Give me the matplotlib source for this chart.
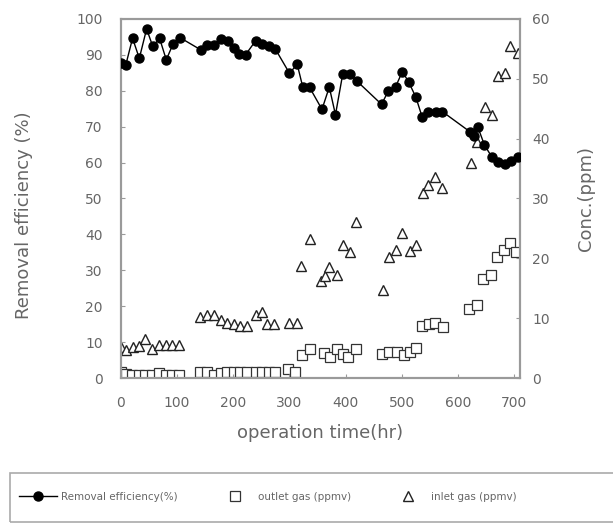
import numpy as np
import matplotlib.pyplot as plt
from matplotlib.patches import Rectangle

# removal efficiency (%), left axis
eff_time = [0, 9, 21, 33, 46, 57, 69, 81, 93, 105,
            142, 154, 166, 179, 190, 201, 210, 222, 240, 252, 263, 275,
            300, 314, 324, 336, 358, 371, 382, 395, 408, 420,
            464, 476, 489, 501, 512, 525, 536, 547, 560, 572,
            621, 628, 635, 647, 660, 671, 683, 695, 706]
eff = [87.7, 87.2, 94.6, 89.0, 97.2, 92.3, 94.6, 88.6, 93.0, 94.8,
       91.4, 92.8, 92.6, 94.4, 93.7, 91.8, 90.1, 90.0, 93.9, 93.0, 92.3, 91.6,
       84.9, 87.3, 80.9, 80.9, 74.8, 81.0, 73.3, 84.7, 84.7, 82.7,
       76.2, 79.9, 81.1, 85.3, 82.5, 78.2, 72.8, 74.2, 74.2, 74.2,
       68.6, 67.5, 70.0, 64.9, 61.6, 60.2, 59.5, 60.4, 61.6]

# outlet gas (ppmv), right axis
out_time = [0, 10, 20, 32, 44, 56, 68, 80, 92, 104,
            141, 154, 166, 178, 189, 201, 213, 225, 240, 252, 263, 275,
            298, 310, 323, 336, 361, 373, 385, 395, 405, 419,
            465, 478, 491, 504, 514, 526, 536, 548, 559, 574,
            620, 634, 645, 659, 669, 681, 693, 703]
outlet = [1.1, 0.7, 0.5, 0.5, 0.6, 0.5, 0.8, 0.5, 0.6, 0.5,
          1.0, 1.0, 0.6, 0.9, 1.0, 1.0, 1.0, 1.0, 1.0, 1.0, 1.0, 1.0,
          1.6, 1.1, 3.8, 4.8, 4.2, 3.6, 4.8, 4.0, 3.6, 4.8,
          4.0, 4.4, 4.4, 3.8, 4.4, 5.1, 8.7, 9.0, 9.2, 8.6,
          11.5, 12.2, 16.5, 17.2, 20.3, 21.4, 22.6, 21.1]

# inlet gas (ppmv), right axis
in_time = [0, 9, 21, 33, 44, 56, 68, 80, 92, 104,
           141, 154, 166, 178, 189, 201, 213, 225, 240, 252, 261, 272,
           299, 314, 321, 336, 356, 364, 370, 384, 395, 407, 419,
           467, 477, 490, 500, 514, 526, 538, 547, 559, 571,
           624, 633, 648, 660, 671, 683, 692, 707]
inlet = [5.2, 4.7, 5.2, 5.3, 6.6, 4.8, 5.5, 5.5, 5.5, 5.5,
         10.2, 10.5, 10.5, 9.7, 9.2, 9.0, 8.7, 8.7, 10.5, 11.1, 9.1, 9.0,
         9.2, 9.2, 18.8, 23.2, 16.3, 17.0, 18.6, 17.2, 22.2, 21.1, 26.1,
         14.7, 20.2, 21.4, 24.2, 21.3, 22.2, 30.9, 32.3, 33.6, 31.7,
         35.9, 39.5, 45.3, 44.0, 50.4, 51.0, 55.4, 54.3]

grey = "#666666"
spine_grey = "#9a9a9a"

fig = plt.figure(figsize=(6.13, 5.23), dpi=100)
ax = fig.add_axes([0.197, 0.277, 0.651, 0.687])
ax2 = ax.twinx()

# efficiency line on the left axis
l1, = ax.plot(eff_time, eff, color="black", lw=1, marker="o", ms=6.5,
              mfc="black", mec="black", label="Removal efficiency(%)", zorder=5)
# concentrations on the right axis
l2, = ax2.plot(out_time, outlet, ls="none", marker="s", ms=7, mfc="white",
               mec="#333333", mew=0.9, label="outlet gas (ppmv)")
l3, = ax2.plot(in_time, inlet, ls="none", marker="^", ms=6.5, mfc="white",
               mec="#222222", mew=1.0, label="inlet gas (ppmv)")
ax.set_zorder(ax2.get_zorder() + 1)
ax.patch.set_visible(False)

ax.set_xlim(0, 710)
ax.set_ylim(0, 100)
ax2.set_ylim(0, 60)
ax.set_xticks(np.arange(0, 701, 100))
ax.set_yticks(np.arange(0, 101, 10))
ax2.set_yticks(np.arange(0, 61, 10))

for a in (ax, ax2):
    for s in a.spines.values():
        s.set_color(spine_grey)
        s.set_linewidth(1.5)
    a.tick_params(direction="in", color=spine_grey, length=3,
                  labelcolor=grey, labelsize=10)
ax.tick_params(axis="x", pad=13)
ax.tick_params(axis="y", pad=13)
ax2.tick_params(axis="y", pad=9)

ax.set_xlabel("operation time(hr)", fontsize=13, color=grey)
ax.set_ylabel("Removal efficiency (%)", fontsize=13, color=grey)
ax2.set_ylabel("Conc.(ppm)", fontsize=13, color=grey)
ax.xaxis.set_label_coords(0.499, -0.128)
ax.yaxis.set_label_coords(-0.22, 0.454)
ax2.yaxis.set_label_coords(1.143, 0.5)

# legend strip along the bottom
fig.patches.append(Rectangle((0.016, 0.002), 1.0, 0.094, transform=fig.transFigure,
                             fill=False, edgecolor="#aaaaaa", lw=1.2))
leg = fig.legend(handles=[l1, l2, l3], loc="center left",
                 bbox_to_anchor=(0.025, 0.05), ncol=3, frameon=False,
                 fontsize=7.5, handlelength=3.6, columnspacing=3.7,
                 handletextpad=0.4, borderaxespad=0)
for t in leg.get_texts():
    t.set_color(grey)

fig.savefig("out.png", dpi=100)
